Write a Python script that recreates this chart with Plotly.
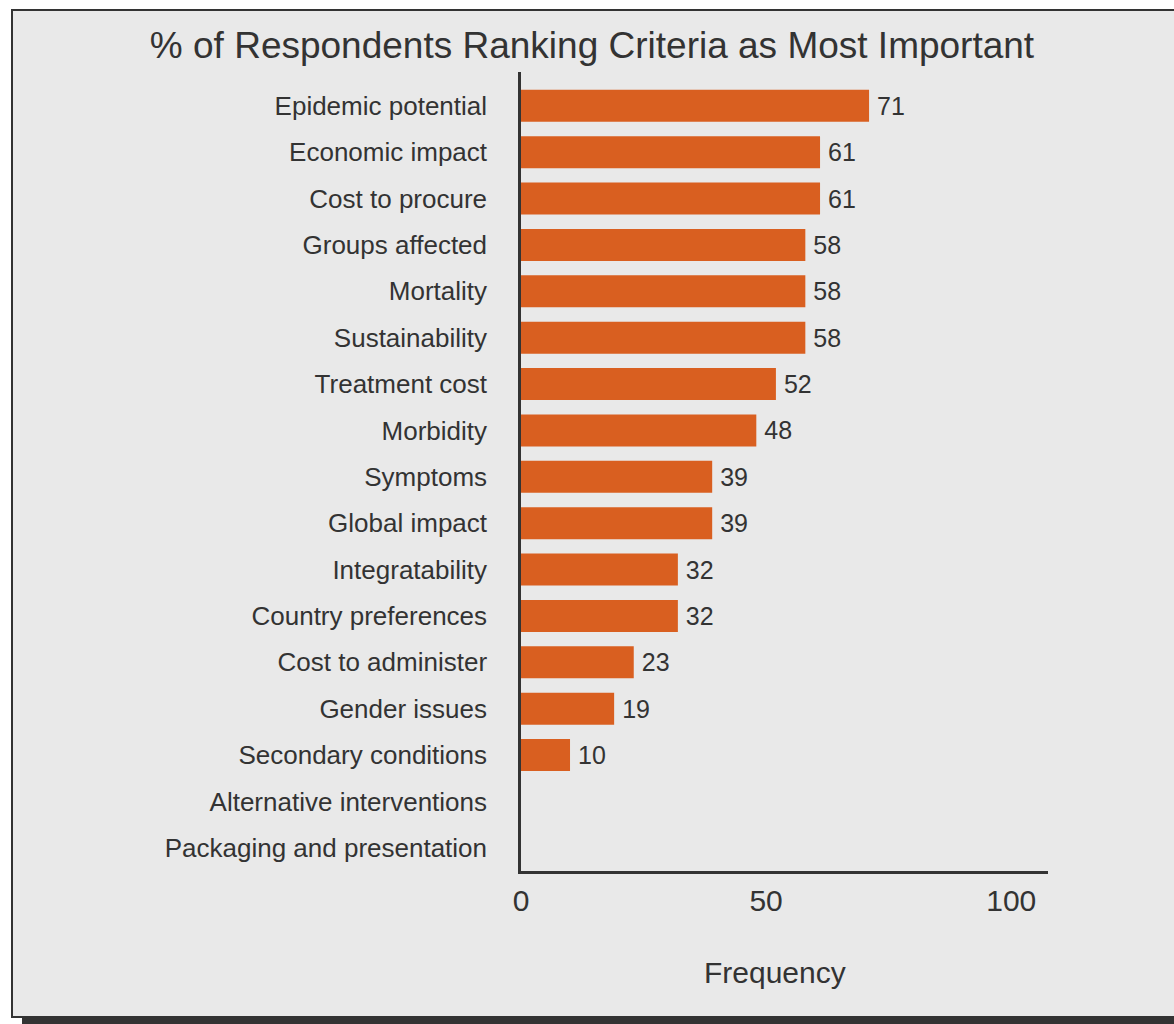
import plotly.graph_objects as go

# ---- data ----
criteria = [
    "Epidemic potential", "Economic impact", "Cost to procure", "Groups affected",
    "Mortality", "Sustainability", "Treatment cost", "Morbidity", "Symptoms",
    "Global impact", "Integratability", "Country preferences", "Cost to administer",
    "Gender issues", "Secondary conditions", "Alternative interventions",
    "Packaging and presentation",
]
frequency = [71, 61, 61, 58, 58, 58, 52, 48, 39, 39, 32, 32, 23, 19, 10, 0, 0]
x_ticks = [0, 50, 100]
title_text = "% of Respondents Ranking Criteria as Most Important"
x_title = "Frequency"

# ---- layout helpers (pixel -> paper) ----
W, H = 1174, 1024
def px(x):
    return x / W
def py(y):
    return 1 - y / H

FONT = "Liberation Sans, Arial, Helvetica, sans-serif"
TXT = "#333333"
BAR = "#d95f20"
BG = "#e9e9e9"

labels = [str(v) if v else "" for v in frequency]

fig = go.Figure(
    go.Bar(
        x=frequency,
        y=criteria,
        orientation="h",
        marker=dict(color=BAR, line=dict(width=0)),
        text=labels,
        texttemplate="\u2009%{text}",
        textposition="outside",
        textfont=dict(family=FONT, size=25, color=TXT),
        cliponaxis=False,
        hoverinfo="x+y",
    )
)

fig.update_layout(
    width=W,
    height=H,
    margin=dict(l=0, r=0, t=0, b=0, pad=0, autoexpand=False),
    autosize=False,
    paper_bgcolor="white",
    plot_bgcolor="rgba(0,0,0,0)",
    bargap=0.31,
    showlegend=False,
    font=dict(family=FONT, color=TXT),
    title=dict(
        text=title_text,
        x=px(592), y=py(45), xref="paper", yref="paper",
        xanchor="center", yanchor="middle",
        font=dict(family=FONT, size=37, color=TXT),
    ),
    xaxis=dict(
        domain=[px(521), px(1048)],
        range=[0, 107.5],
        tickvals=x_ticks,
        ticks="",
        showgrid=False,
        zeroline=False,
        showline=True,
        linecolor=TXT,
        linewidth=2.5,
        tickfont=dict(family=FONT, size=30, color=TXT),
        ticklabelstandoff=1,
        automargin=False,
        fixedrange=True,
    ),
    yaxis=dict(
        domain=[py(871), py(72)],
        type="category",
        categoryorder="array",
        categoryarray=criteria,
        range=[16.5, -0.73],
        ticks="",
        showgrid=False,
        zeroline=False,
        showline=True,
        linecolor=TXT,
        linewidth=2.5,
        tickfont=dict(family=FONT, size=26, color=TXT),
        ticklabelstandoff=26,
        automargin=False,
        fixedrange=True,
    ),
    shapes=[
        # drop shadow
        dict(type="rect", xref="paper", yref="paper",
             x0=px(22), x1=px(1200), y0=py(1040), y1=py(20),
             fillcolor="#333333", line=dict(width=0), layer="below"),
        # frame
        dict(type="rect", xref="paper", yref="paper",
             x0=px(12), x1=px(1190), y0=py(1017), y1=py(10),
             fillcolor=BG, line=dict(color="#333333", width=2), layer="below"),
    ],
    annotations=[
        dict(text=x_title, x=px(775), y=py(972), xref="paper", yref="paper",
             xanchor="center", yanchor="middle", showarrow=False,
             font=dict(family=FONT, size=30, color=TXT)),
    ],
)

fig.write_html(
    "out.html",
    config={"displayModeBar": False},
    post_script="document.body.style.margin='0';document.body.style.overflow='hidden';",
)
